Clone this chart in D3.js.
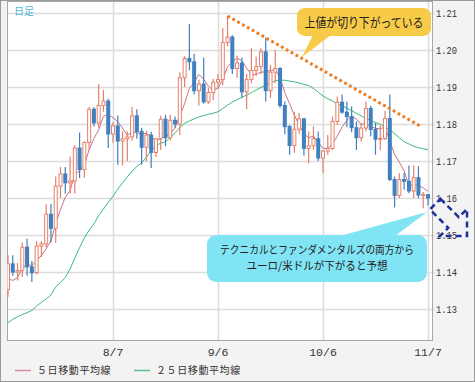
<!DOCTYPE html>
<html>
<head>
<meta charset="utf-8">
<script src="https://cdn.jsdelivr.net/npm/d3@7"></script>
<style>
  html, body { margin: 0; padding: 0; background: #fff; }
  svg { display: block; }
</style>
</head>
<body>
<div id="chart"></div>
<script>
// EUR/USD daily candles, 2017-07-06 .. 2017-11-07
const dates = [
  '7/6','7/7','7/10','7/11','7/12','7/13','7/14','7/17','7/18','7/19','7/20','7/21','7/24','7/25','7/26','7/27','7/28','7/31',
  '8/1','8/2','8/3','8/4','8/7','8/8','8/9','8/10','8/11','8/14','8/15','8/16','8/17','8/18','8/21','8/22','8/23','8/24','8/25','8/28','8/29','8/30','8/31',
  '9/1','9/4','9/5','9/6','9/7','9/8','9/11','9/12','9/13','9/14','9/15','9/18','9/19','9/20','9/21','9/22','9/25','9/26','9/27','9/28','9/29',
  '10/2','10/3','10/4','10/5','10/6','10/9','10/10','10/11','10/12','10/13','10/16','10/17','10/18','10/19','10/20','10/23','10/24','10/25','10/26','10/27','10/30','10/31',
  '11/1','11/2','11/3','11/6','11/7'
];
const opens = [
  1.1353,1.1422,1.1400,1.1404,1.1467,1.1414,1.1398,1.1470,1.1476,1.1556,1.1518,1.1632,1.1665,1.1641,1.1646,1.1735,1.1677,1.1750,
  1.1840,1.1803,1.1850,1.1862,1.1773,1.1795,1.1754,1.1760,1.1765,1.1822,1.1780,1.1737,1.1770,1.1723,1.1760,1.1813,1.1763,1.1810,1.1800,1.1925,1.1977,1.1968,1.1890,
  1.1908,1.1860,1.1885,1.1913,1.1920,1.2020,1.2035,1.1950,1.1965,1.1887,1.1920,1.1945,1.1955,1.1995,1.1890,1.1940,1.1950,1.1850,1.1793,1.1742,1.1786,
  1.1814,1.1734,1.1741,1.1760,1.1708,1.1727,1.1734,1.1807,1.1859,1.1832,1.1820,1.1790,1.1763,1.1789,1.1842,1.1785,1.1759,1.1761,1.1815,1.1650,1.1607,1.1650,
  1.1645,1.1619,1.1655,1.1608,1.1609
];
const highs = [
  1.1445,1.1445,1.1425,1.1480,1.1490,1.1430,1.1484,1.1484,1.1583,1.1584,1.1658,1.1684,1.1684,1.1712,1.1743,1.1777,1.1753,1.1846,
  1.1845,1.1908,1.1892,1.1868,1.1805,1.1823,1.1780,1.1780,1.1846,1.1840,1.1790,1.1782,1.1779,1.1762,1.1822,1.1825,1.1825,1.1820,1.1940,1.1983,1.2070,1.1990,1.1920,
  1.1980,1.1897,1.1922,1.1935,1.2060,1.2092,1.2040,1.1985,1.1980,1.1935,1.2005,1.1982,1.2005,1.2034,1.1960,1.2000,1.1954,1.1861,1.1797,1.1833,1.1830,
  1.1816,1.1780,1.1794,1.1780,1.1730,1.1770,1.1820,1.1874,1.1880,1.1860,1.1848,1.1807,1.1803,1.1861,1.1849,1.1803,1.1795,1.1836,1.1880,1.1658,1.1667,1.1668,
  1.1688,1.1688,1.1686,1.1616,1.1611
];
const lows = [
  1.1333,1.1390,1.1377,1.1387,1.1390,1.1373,1.1393,1.1440,1.1466,1.1480,1.1479,1.1600,1.1612,1.1612,1.1612,1.1654,1.1655,1.1730,
  1.1793,1.1790,1.1833,1.1735,1.1749,1.1690,1.1688,1.1700,1.1755,1.1760,1.1690,1.1700,1.1681,1.1711,1.1730,1.1740,1.1755,1.1790,1.1770,1.1900,1.1945,1.1880,1.1850,
  1.1855,1.1855,1.1865,1.1895,1.1905,1.2010,1.1935,1.1925,1.1870,1.1840,1.1910,1.1930,1.1935,1.1861,1.1870,1.1910,1.1843,1.1772,1.1717,1.1722,1.1774,
  1.1715,1.1694,1.1730,1.1700,1.1668,1.1716,1.1730,1.1798,1.1828,1.1792,1.1778,1.1730,1.1752,1.1780,1.1767,1.1717,1.1730,1.1757,1.1646,1.1574,1.1600,1.1622,
  1.1613,1.1600,1.1599,1.1572,1.1580
];
const closes = [
  1.1422,1.1400,1.1404,1.1467,1.1414,1.1398,1.1470,1.1476,1.1556,1.1518,1.1632,1.1665,1.1641,1.1646,1.1735,1.1677,1.1750,1.1840,
  1.1803,1.1850,1.1862,1.1773,1.1795,1.1754,1.1760,1.1765,1.1822,1.1780,1.1737,1.1770,1.1723,1.1760,1.1813,1.1763,1.1810,1.1800,1.1925,1.1977,1.1968,1.1890,1.1908,
  1.1860,1.1885,1.1913,1.1920,1.2020,1.2035,1.1950,1.1965,1.1887,1.1920,1.1945,1.1955,1.1995,1.1890,1.1940,1.1950,1.1850,1.1793,1.1742,1.1786,1.1814,
  1.1734,1.1741,1.1760,1.1708,1.1727,1.1734,1.1807,1.1859,1.1832,1.1820,1.1790,1.1763,1.1789,1.1842,1.1785,1.1759,1.1761,1.1815,1.1650,1.1607,1.1650,1.1645,
  1.1619,1.1655,1.1608,1.1609,1.1600
];
const ma5 = [
  1.1382,1.1377,1.1385,1.1409,1.1421,1.1417,1.1431,1.1445,1.1463,1.1484,1.1530,1.1569,1.1602,1.1620,1.1664,1.1673,1.1690,1.1730,
  1.1761,1.1784,1.1821,1.1826,1.1817,1.1807,1.1789,1.1769,1.1779,1.1776,1.1773,1.1775,1.1766,1.1754,1.1761,1.1766,1.1774,1.1789,1.1822,1.1855,1.1896,1.1912,1.1934,
  1.1921,1.1902,1.1891,1.1897,1.1920,1.1955,1.1968,1.1978,1.1971,1.1951,1.1933,1.1934,1.1940,1.1941,1.1945,1.1946,1.1925,1.1885,1.1855,1.1824,1.1797,
  1.1774,1.1763,1.1767,1.1751,1.1734,1.1734,1.1747,1.1767,1.1792,1.1810,1.1822,1.1813,1.1799,1.1801,1.1794,1.1788,1.1787,1.1792,1.1754,1.1718,1.1697,1.1673,
  1.1634,1.1635,1.1635,1.1627,1.1618
];
const ma25 = [
  1.1263,1.1272,1.1279,1.1285,1.1290,1.1296,1.1308,1.1318,1.1327,1.1338,1.1360,1.1372,1.1385,1.1408,1.1438,1.1466,1.1492,1.1513,
  1.1530,1.1553,1.1570,1.1588,1.1605,1.1624,1.1641,1.1657,1.1673,1.1685,1.1695,1.1710,1.1728,1.1742,1.1748,1.1752,1.1764,1.1776,1.1790,1.1802,1.1808,1.1814,1.1819,
  1.1823,1.1826,1.1829,1.1833,1.1842,1.1851,1.1859,1.1866,1.1872,1.1878,1.1885,1.1892,1.1899,1.1905,1.1911,1.1917,1.1919,1.1918,1.1916,1.1914,1.1911,
  1.1907,1.1904,1.1896,1.1886,1.1876,1.1868,1.1862,1.1855,1.1849,1.1843,1.1836,1.1829,1.1822,1.1815,1.1809,1.1804,1.1799,1.1792,1.1784,1.1774,1.1763,1.1752,
  1.1746,1.1740,1.1736,1.1733,1.1730
];
const tickDates = ['8/7', '9/6', '10/6', '11/7'];
const yTicks = [1.13, 1.14, 1.15, 1.16, 1.17, 1.18, 1.19, 1.20, 1.21];
const seriesNames = ['５日移動平均線', '２５日移動平均線'];
// falling highs line: from the 9/8 high down to the right
const resistStart = [46, 1.2092];
const resistEnd = [86.3, 1.1795];
const noteTop = '上値が切り下がっている';
const noteBottom = ['テクニカルとファンダメンタルズの両方から', 'ユーロ/米ドルが下がると予想'];

const W = 475, H = 382;
const plot = { left: 7.5, top: 1.5, right: 432.5, bottom: 340.5 };
const COL = {
  up: '#e4806a', down: '#3f80c0', ma5: '#c9718a', ma25: '#3db77c',
  grid: '#dcdcdc', frame: '#a8a8a8', text: '#333'
};
const JP = '"Noto Sans CJK JP", sans-serif';

const x = d3.scaleLinear().domain([0, dates.length - 1]).range([8, 428]);
const y = d3.scaleLinear().domain([1.13, 1.21]).range([309, 13]);

const svg = d3.select('#chart').append('svg')
  .attr('width', W).attr('height', H)
  .attr('viewBox', `0 0 ${W} ${H}`);

svg.append('rect').attr('x', 0.5).attr('y', 0.5).attr('width', W - 1).attr('height', H - 1)
  .attr('fill', '#f3f3f3').attr('stroke', '#9a9a9a');
svg.append('rect').attr('x', plot.left).attr('y', plot.top)
  .attr('width', plot.right - plot.left).attr('height', plot.bottom - plot.top)
  .attr('fill', '#fff');

svg.append('clipPath').attr('id', 'clip').append('rect')
  .attr('x', plot.left).attr('y', plot.top)
  .attr('width', plot.right - plot.left).attr('height', plot.bottom - plot.top);

// grid
const grid = svg.append('g');
grid.selectAll('line.h').data(yTicks).enter().append('line')
  .attr('x1', plot.left).attr('x2', plot.right + 2)
  .attr('y1', d => Math.round(y(d)) + 0.5).attr('y2', d => Math.round(y(d)) + 0.5)
  .attr('stroke', COL.grid).attr('stroke-width', 1.5);
grid.selectAll('line.v').data(tickDates).enter().append('line')
  .attr('x1', d => Math.round(x(dates.indexOf(d))) + 0.5).attr('x2', d => Math.round(x(dates.indexOf(d))) + 0.5)
  .attr('y1', plot.top).attr('y2', plot.bottom)
  .attr('stroke', COL.grid).attr('stroke-width', 1.5);

// frame
svg.append('rect').attr('x', plot.left).attr('y', plot.top)
  .attr('width', plot.right - plot.left).attr('height', plot.bottom - plot.top)
  .attr('fill', 'none').attr('stroke', COL.frame);

// squeeze a text horizontally to a target width (keeps glyph height)
function fitWidth(sel, target, cx, cy) {
  sel.each(function(d, i) {
    const t = typeof target === 'function' ? target(d, i) : target;
    const w = this.getComputedTextLength();
    const k = w > 0 ? t / w : 1;
    const yy = typeof cy === 'function' ? cy(d, i) : cy;
    d3.select(this).attr('x', 0).attr('y', 0)
      .attr('transform', `translate(${cx},${yy}) scale(${k},1)`);
  });
}

// axes labels
svg.append('g').selectAll('text').data(yTicks).enter().append('text')
  .attr('font-family', '"Liberation Mono", monospace').attr('font-size', 11.5)
  .attr('fill', COL.text).text(d => d.toFixed(2))
  .call(fitWidth, 21, 436, d => y(d) + 4);
svg.append('g').selectAll('text').data(tickDates).enter().append('text')
  .attr('x', d => x(dates.indexOf(d))).attr('y', 356)
  .attr('text-anchor', 'middle')
  .attr('font-family', '"Liberation Mono", monospace').attr('font-size', 11.5)
  .attr('fill', COL.text).text(d => d);

const body = svg.append('g').attr('clip-path', 'url(#clip)');

// moving averages
const line = d3.line().x((d, i) => x(i)).y(d => y(d));
body.append('path').datum(ma25).attr('d', line)
  .attr('fill', 'none').attr('stroke', COL.ma25).attr('stroke-width', 1);
body.append('path').datum(ma5).attr('d', line)
  .attr('fill', 'none').attr('stroke', COL.ma5).attr('stroke-width', 1);

// candles
const candles = dates.map((d, i) => ({ i, o: opens[i], h: highs[i], l: lows[i], c: closes[i] }));
const cg = body.append('g');
cg.selectAll('line').data(candles).enter().append('line')
  .attr('x1', d => x(d.i)).attr('x2', d => x(d.i))
  .attr('y1', d => y(d.h)).attr('y2', d => y(d.l))
  .attr('stroke', d => d.c >= d.o ? COL.up : COL.down).attr('stroke-width', 1.2);
cg.selectAll('rect').data(candles).enter().append('rect')
  .attr('x', d => d.c >= d.o ? x(d.i) - 1.5 : x(d.i) - 2)
  .attr('width', d => d.c >= d.o ? 3 : 4)
  .attr('y', d => y(Math.max(d.o, d.c)) - (d.c >= d.o ? 0 : 0.5))
  .attr('height', d => Math.max(1, Math.abs(y(d.o) - y(d.c))) + (d.c >= d.o ? 0 : 1))
  .attr('fill', d => d.c >= d.o ? '#fff' : COL.down)
  .attr('stroke', d => d.c >= d.o ? COL.up : 'none')
  .attr('stroke-width', 1);

// period label
svg.append('text').attr('x', 14).attr('y', 15)
  .attr('font-family', JP).attr('font-size', 10)
  .attr('fill', '#4fb7dc').text('日足');

// falling highs dotted line
svg.append('line')
  .attr('x1', x(resistStart[0])).attr('y1', y(resistStart[1]))
  .attr('x2', x(resistEnd[0])).attr('y2', y(resistEnd[1]))
  .attr('stroke', '#f07c20').attr('stroke-width', 3)
  .attr('stroke-dasharray', '2.8 2.8');

// yellow callout
const yb = { x: 297, y: 8, w: 134, h: 28 };
svg.append('path')
  .attr('d', `M${yb.x + 16},${yb.y + yb.h - 1} L${yb.x + 34},${yb.y + yb.h - 1} L${yb.x + 5},${yb.y + yb.h + 21} Z`)
  .attr('fill', '#f7ca48');
svg.append('rect').attr('x', yb.x).attr('y', yb.y).attr('width', yb.w).attr('height', yb.h)
  .attr('rx', 8).attr('fill', '#f7ca48');
svg.append('text')
  .attr('text-anchor', 'middle')
  .attr('font-family', JP).attr('font-size', 13)
  .attr('fill', '#222').text(noteTop)
  .call(fitWidth, 119, yb.x + yb.w / 2, yb.y + 19);

// cyan callout
const cb = { x: 207, y: 235, w: 220, h: 47 };
svg.append('path')
  .attr('d', `M${cb.x + 133},${cb.y + 1} L${cb.x + 188},${cb.y + 1} L${cb.x + 220},${cb.y - 23} Z`)
  .attr('fill', '#80e4f4');
svg.append('rect').attr('x', cb.x).attr('y', cb.y).attr('width', cb.w).attr('height', cb.h)
  .attr('rx', 9).attr('fill', '#80e4f4');
svg.append('g').selectAll('text').data(noteBottom).enter().append('text')
  .attr('text-anchor', 'middle')
  .attr('font-family', JP).attr('font-size', 11.2)
  .attr('fill', '#222').text(d => d)
  .call(fitWidth, (d, i) => i === 0 ? 194 : 141, cb.x + cb.w / 2, (d, i) => cb.y + 18.5 + i * 16.3);

// dashed down arrow
const tip = [467, 236], head = 27, half = 7.5, shaft = 26;
const bx = tip[0] - head / 2, by = tip[1] - head / 2;
const o = half / Math.SQRT2, s = shaft / Math.SQRT2;
const arrow = [
  [bx - s + o, by - s - o], [bx + o, by - o], [tip[0], tip[1] - head], tip,
  [tip[0] - head, tip[1]], [bx - o, by + o], [bx - s - o, by - s + o]
];
svg.append('path').attr('d', d3.line()(arrow) + 'Z')
  .attr('fill', 'none').attr('stroke', '#1f2f9c').attr('stroke-width', 2.5)
  .attr('stroke-dasharray', '6 4');

// legend
const legend = svg.append('g');
const legX = [15, 134];
legend.selectAll('line').data(seriesNames).enter().append('line')
  .attr('x1', (d, i) => legX[i]).attr('x2', (d, i) => legX[i] + 16)
  .attr('y1', 370.5).attr('y2', 370.5)
  .attr('stroke', (d, i) => i === 0 ? '#d48ea0' : '#5cc08e').attr('stroke-width', 1.5);
legend.selectAll('text').data(seriesNames).enter().append('text')
  .attr('x', (d, i) => legX[i] + 22).attr('y', 374)
  .attr('font-family', JP).attr('font-size', 10)
  .attr('letter-spacing', 0.6)
  .attr('fill', COL.text).text(d => d);
</script>
</body>
</html>
